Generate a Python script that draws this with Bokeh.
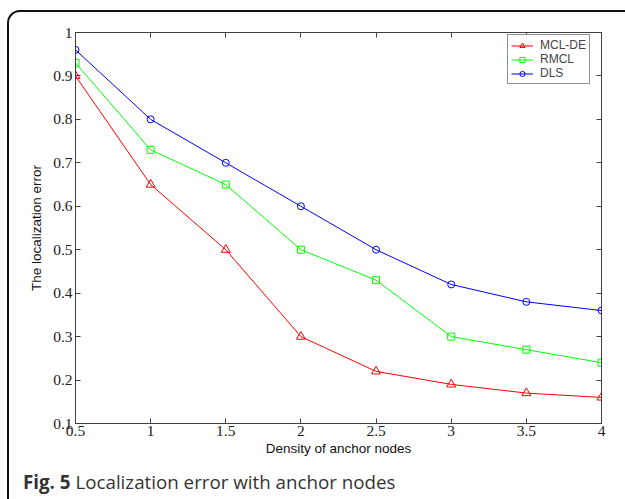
from bokeh.plotting import figure
from bokeh.models import (LinearAxis, FixedTicker, Legend, LegendItem, Div, InlineStyleSheet)
from bokeh.layouts import column
from bokeh.embed import file_html
from bokeh.resources import INLINE

# ---- data ----
density = [0.5, 1, 1.5, 2, 2.5, 3, 3.5, 4]
mcl_de = [0.90, 0.65, 0.50, 0.30, 0.22, 0.19, 0.17, 0.16]
rmcl = [0.93, 0.73, 0.65, 0.50, 0.43, 0.30, 0.27, 0.24]
dls = [0.96, 0.80, 0.70, 0.60, 0.50, 0.42, 0.38, 0.36]
series_names = ["MCL-DE", "RMCL", "DLS"]
x_ticks = [0.5, 1, 1.5, 2, 2.5, 3, 3.5, 4]
x_tick_labels = ["0.5", "1", "1.5", "2", "2.5", "3", "3.5", "4"]
y_ticks = [0.1, 0.2, 0.3, 0.4, 0.5, 0.6, 0.7, 0.8, 0.9, 1.0]
y_tick_labels = ["0.1", "0.2", "0.3", "0.4", "0.5", "0.6", "0.7", "0.8", "0.9", "1"]
x_title = "Density of anchor nodes"
y_title = "The localization error"
caption_bold = "Fig. 5"
caption_text = "Localization error with anchor nodes"

W, H = 625, 499
PH = 465                         # figure height; caption Div below
FL, FR, FT, FB = 75, 601, 32, 423  # frame edges in page pixels

p = figure(width=W, height=PH, output_backend="svg", toolbar_location=None,
           x_range=(0.5, 4), y_range=(0.1, 1.0),
           min_border_left=FL, min_border_right=W - FR,
           min_border_top=FT, min_border_bottom=PH - FB,
           x_axis_location=None, y_axis_location=None)
p.grid.visible = False
p.outline_line_color = None
p.background_fill_color = "white"
p.border_fill_color = "white"

axis_color = "#404040"
serif = "Liberation Serif"
sans = "Liberation Sans"


def style_axis(ax, ticks, labels, show_labels):
    ax.ticker = FixedTicker(ticks=ticks)
    ax.major_label_overrides = {t: (l if show_labels else "") for t, l in zip(ticks, labels)}
    ax.axis_line_color = axis_color
    ax.major_tick_line_color = axis_color
    ax.major_tick_in = 5
    ax.major_tick_out = 0
    ax.minor_tick_line_color = None
    ax.major_label_text_font = serif
    ax.major_label_text_font_size = "15.5px"
    ax.major_label_text_color = "#222222"


bottom = LinearAxis(axis_label=x_title, axis_label_text_font=sans,
                    axis_label_text_font_size="13.5px", axis_label_text_font_style="normal",
                    axis_label_text_color="#111111",
                    axis_label_standoff=2, major_label_standoff=2)
style_axis(bottom, x_ticks, x_tick_labels, True)
left = LinearAxis(axis_label=y_title, axis_label_text_font=sans,
                  axis_label_text_font_size="13.5px", axis_label_text_font_style="normal",
                  axis_label_text_color="#111111",
                  axis_label_standoff=6, major_label_standoff=3)
style_axis(left, y_ticks, y_tick_labels, True)
top = LinearAxis(major_label_standoff=0)
style_axis(top, x_ticks, x_tick_labels, False)
right = LinearAxis(major_label_standoff=0)
style_axis(right, y_ticks, y_tick_labels, False)
p.add_layout(bottom, "below")
p.add_layout(left, "left")
p.add_layout(top, "above")
p.add_layout(right, "right")

colors = ["#ff0000", "#00ff00", "#0000ff"]
values = [mcl_de, rmcl, dls]
items = []
for name, vals, col, mk, sz in zip(series_names, values, colors,
                                   ["triangle", "square", "circle"], [9, 7, 7]):
    ln = p.line(density, vals, line_color=col, line_width=1)
    sc = p.scatter(density, vals, marker=mk, size=sz, line_color=col,
                   fill_color=None, line_width=1)
    items.append(LegendItem(label=name, renderers=[ln, sc]))

legend = Legend(items=items, location=(432, FB - 84),
                label_text_font=sans, label_text_font_size="12px",
                label_height=13, glyph_height=13, glyph_width=22,
                label_standoff=7, spacing=0, padding=3,
                border_line_color="#222222", border_line_width=1,
                background_fill_color="white", margin=0)
p.add_layout(legend, "center")

# ---- caption below the chart ----
cap = Div(text=f"<b>{caption_bold}</b> {caption_text}", width=W, height=H - PH,
          styles={"font-family": "'Open Sans', sans-serif", "font-size": "18.75px",
                  "color": "#333333", "line-height": "24px",
                  "padding-left": "23px", "padding-top": "5px",
                  "box-sizing": "border-box", "margin": "0"})

# ---- outer rounded frame around the figure panel ----
frame_css = InlineStyleSheet(css="""
:host { position: relative; }
:host::after {
  content: "";
  position: absolute;
  left: 7px; top: 10px; right: 0px; bottom: 0px;
  border-top: 2px solid #111111;
  border-left: 2px solid #111111;
  border-top-left-radius: 13px;
  pointer-events: none;
  z-index: 10;
}
""")

layout = column(p, cap, width=W, height=H, spacing=0, stylesheets=[frame_css])

open("out.html", "w").write(file_html(layout, INLINE))
